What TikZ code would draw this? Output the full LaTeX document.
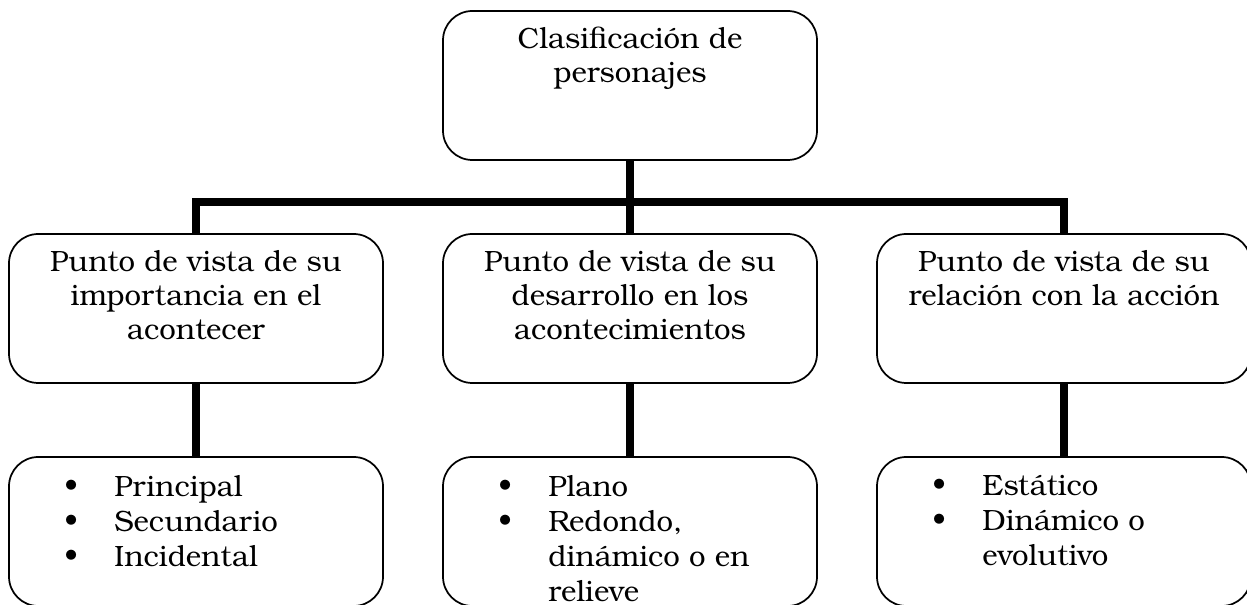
\documentclass[tikz,border=0pt]{standalone}
\usepackage{fontspec}
\setmainfont{TeX Gyre Bonum}
\begin{document}
\begin{tikzpicture}[x=0.75pt,y=-0.75pt,
  box/.style={draw=black,line width=1.3pt,rounded corners=22pt,minimum width=280.5pt,minimum height=111.75pt,inner sep=0pt},
  ctext/.style={anchor=north,inner sep=0pt,align=center,font=\fontsize{22}{25.5}\selectfont},
  ltext/.style={anchor=north west,inner sep=0pt,align=left,font=\fontsize{22}{26.25}\selectfont},
  conn/.style={line width=6pt}]
\useasboundingbox (0,0) rectangle (1247,605);
\begin{scope}
\clip (0,0) rectangle (1247,605);
% boxes
\node[box] (top) at (630,85.5) {};
\node[box] (m1) at (196,308.5) {};
\node[box] (m2) at (630,308.5) {};
\node[box] (m3) at (1064,308.5) {};
\node[box] (b1) at (196,531.5) {};
\node[box] (b2) at (630,531.5) {};
\node[box] (b3) at (1064,531.5) {};
% connectors
\coordinate (hub) at (630,202);
\coordinate (hl) at (196,202);
\coordinate (hr) at (1064,202);
\draw[conn] (top.south) -- (hub);
\draw[conn,line cap=rect] (hl) -- (hr);
\draw[conn] (hl) -- (m1.north);
\draw[conn] (hub) -- (m2.north);
\draw[conn] (hr) -- (m3.north);
\draw[conn] (m1.south) -- (b1.north);
\draw[conn] (m2.south) -- (b2.north);
\draw[conn] (m3.south) -- (b3.north);
% texts
\node[ctext] (ttop) at ([yshift=-12.5pt]top.north) {Clasificación de\\personajes};
\node[ctext] (t1) at ([yshift=-12.5pt]m1.north) {Punto de vista de su\\importancia en el\\acontecer};
\node[ctext] (t2) at ([yshift=-12.5pt]m2.north) {Punto de vista de su\\desarrollo en los\\acontecimientos};
\node[ctext] (t3) at ([yshift=-12.5pt]m3.north) {Punto de vista de su\\relación con la acción};
\newcommand{\bul}{\makebox[37.5pt][l]{\textbullet}}
\newcommand{\nob}{\hspace*{37.5pt}}
\node[ltext] (l1) at ([xshift=42pt,yshift=-14.5pt]b1.north west) {\bul Principal\\\bul Secundario\\\bul Incidental};
\node[ltext] (l2) at ([xshift=42pt,yshift=-14.5pt]b2.north west) {\bul Plano\\\bul Redondo,\\\nob dinámico o en\\\nob relieve};
\node[ltext] (l3) at ([xshift=42pt,yshift=-14.5pt]b3.north west) {\bul Estático\\\bul Dinámico o\\\nob evolutivo};
\end{scope}
\end{tikzpicture}
\end{document}
